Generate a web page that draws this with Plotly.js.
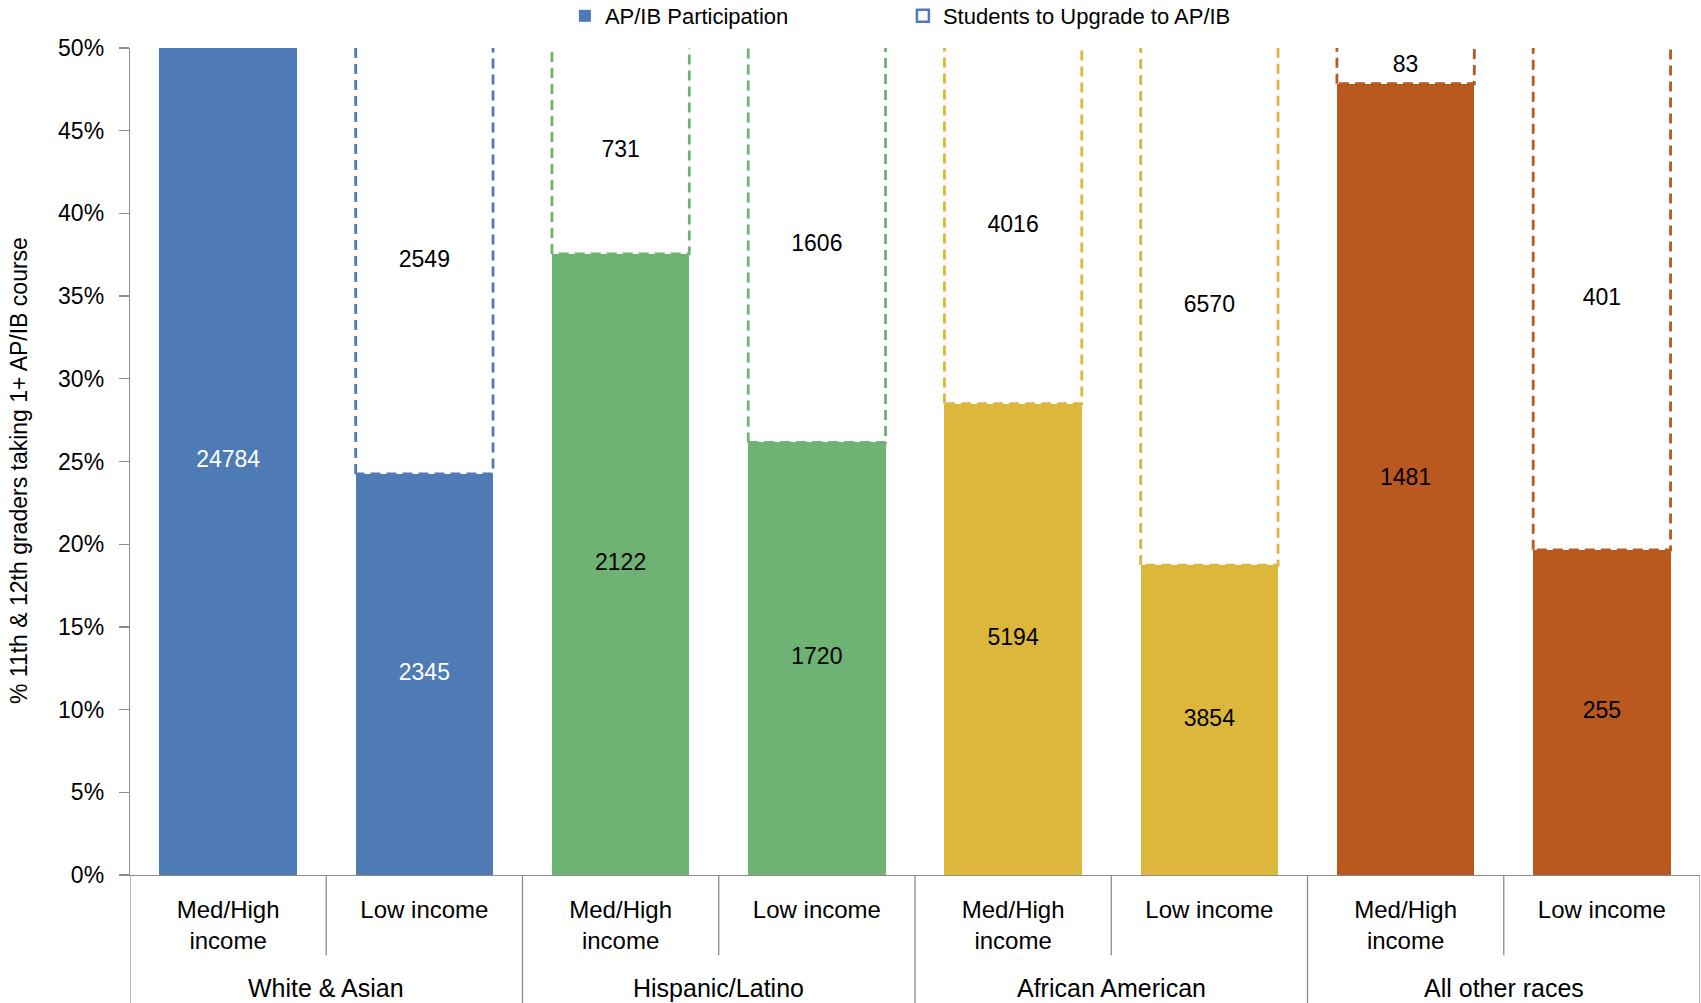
<!DOCTYPE html>
<html><head><meta charset="utf-8">
<script src="https://cdn.plot.ly/plotly-3.0.1.min.js"></script>
<style>html,body{margin:0;padding:0;background:#fff;} #chart{width:1701px;height:1003px;}</style>
</head><body><div id="chart"></div>
<script>
// ---- data ----
const groups = ['White & Asian', 'Hispanic/Latino', 'African American', 'All other races'];
const subcats = ['Med/High<br>income', 'Low income', 'Med/High<br>income', 'Low income',
                 'Med/High<br>income', 'Low income', 'Med/High<br>income', 'Low income'];
const participationPct = [50.5, 24.25, 37.55, 26.15, 28.5, 18.74, 47.84, 19.66];
const upgradePct = [0, 26.3, 13.0, 24.4, 22.0, 31.8, 2.7, 30.8];
const participationCount = [24784, 2345, 2122, 1720, 5194, 3854, 1481, 255];
const upgradeCount = [null, 2549, 731, 1606, 4016, 6570, 83, 401];
const groupColors = ['#4E7AB5', '#6EB373', '#DDB73B', '#B9581F'];
const yTicks = [0, 5, 10, 15, 20, 25, 30, 35, 40, 45, 50];
const seriesNames = ['AP/IB Participation', 'Students to Upgrade to AP/IB'];
const yTitle = '% 11th & 12th graders taking 1+ AP/IB course';

// ---- build ----
const FONT = '"Liberation Sans", Arial, sans-serif';
const YMAX = 50;
const BARW = 0.7;
const xs = subcats.map((_, i) => i);
const barColors = xs.map(i => groupColors[Math.floor(i / 2)]);
const axisGray = '#8C8C8C';

const traces = [];
traces.push({
  type: 'bar', x: xs, y: participationPct, width: BARW, name: seriesNames[0],
  marker: {color: barColors, line: {width: 0}}, hoverinfo: 'none'
});
traces.push({
  type: 'bar', x: xs, y: upgradePct, width: BARW, name: seriesNames[1],
  marker: {
    color: 'rgba(255,255,255,0)',
    line: {color: xs.map(i => i === 0 ? groupColors[0] : 'rgba(0,0,0,0)'),
           width: xs.map(i => i === 0 ? 2.5 : 0)}
  },
  hoverinfo: 'none'
});
// dashed outlines of upgrade bars
xs.forEach(i => {
  if (!upgradePct[i]) return;
  const b = participationPct[i], t = participationPct[i] + upgradePct[i];
  const x0 = i - BARW / 2, x1 = i + BARW / 2;
  traces.push({
    type: 'scatter', mode: 'lines', showlegend: false, hoverinfo: 'none',
    x: [x0, x0, x1, x1, x0], y: [b, t, t, b, b],
    line: {color: barColors[i], width: 2.8, dash: '10px,6px'}
  });
});
// labels
traces.push({
  type: 'scatter', mode: 'text', showlegend: false, hoverinfo: 'none',
  x: xs, y: participationPct.map(v => Math.min(v, YMAX) / 2),
  text: participationCount.map(String),
  textfont: {family: FONT, size: 23, color: xs.map(i => i < 2 ? '#FFFFFF' : '#000000')}
});
const upIdx = xs.filter(i => upgradeCount[i] != null);
traces.push({
  type: 'scatter', mode: 'text', showlegend: false, hoverinfo: 'none',
  x: upIdx,
  y: upIdx.map(i => (participationPct[i] + Math.min(participationPct[i] + upgradePct[i], YMAX)) / 2),
  text: upIdx.map(i => String(upgradeCount[i])),
  textfont: {family: FONT, size: 23, color: '#000000'}
});

// dividers below x axis
const shapes = [];
for (let k = 0; k <= xs.length; k++) {
  const xb = k - 0.5;
  const long = (k % 2 === 0);
  shapes.push({
    type: 'line', xref: 'x', yref: 'paper', x0: xb, x1: xb, y0: 0, y1: long ? -0.16 : -0.097,
    line: {color: axisGray, width: 1.3}, layer: 'above'
  });
}
const annotations = groups.map((g, j) => ({
  xref: 'x', yref: 'paper', x: 2 * j + 0.5, y: -0.1366, yanchor: 'middle', xanchor: 'center',
  text: g, showarrow: false, font: {family: FONT, size: 25, color: '#000'}
}));
annotations.push({
  xref: 'paper', yref: 'paper', x: -0.0707, y: 0.4885, xanchor: 'center', yanchor: 'middle',
  textangle: -90, text: yTitle, showarrow: false, font: {family: FONT, size: 23, color: '#000'}
});

const layout = {
  width: 1701, height: 1003,
  margin: {l: 130, r: 1, t: 48, b: 128},
  paper_bgcolor: '#fff', plot_bgcolor: '#fff',
  barmode: 'stack',
  font: {family: FONT, color: '#000'},
  showlegend: true,
  legend: {orientation: 'h', traceorder: 'normal', x: 0.277, xanchor: 'left',
           yref: 'container', y: 0.984, yanchor: 'middle',
           font: {family: FONT, size: 22, color: '#000'}, entrywidth: 293, bgcolor: 'rgba(0,0,0,0)'},
  xaxis: {
    range: [-0.5, 7.5], tickvals: xs, ticktext: subcats, ticks: '',
    showline: true, linecolor: axisGray, linewidth: 1.3, showgrid: false, zeroline: false,
    tickfont: {family: FONT, size: 24, color: '#000'}, ticklabelstandoff: 13, fixedrange: true
  },
  yaxis: {
    range: [0, YMAX], tickvals: yTicks, ticktext: yTicks.map(v => v + '%'),
    ticks: 'outside', ticklen: 10, tickcolor: axisGray, tickwidth: 1.3,
    showline: true, linecolor: axisGray, linewidth: 1.3, showgrid: false, zeroline: false,
    tickfont: {family: FONT, size: 23, color: '#000'}, ticklabelstandoff: 10,
    fixedrange: true
  },
  shapes: shapes,
  annotations: annotations
};
Plotly.newPlot('chart', traces, layout, {displayModeBar: false, staticPlot: true});
</script></body></html>
